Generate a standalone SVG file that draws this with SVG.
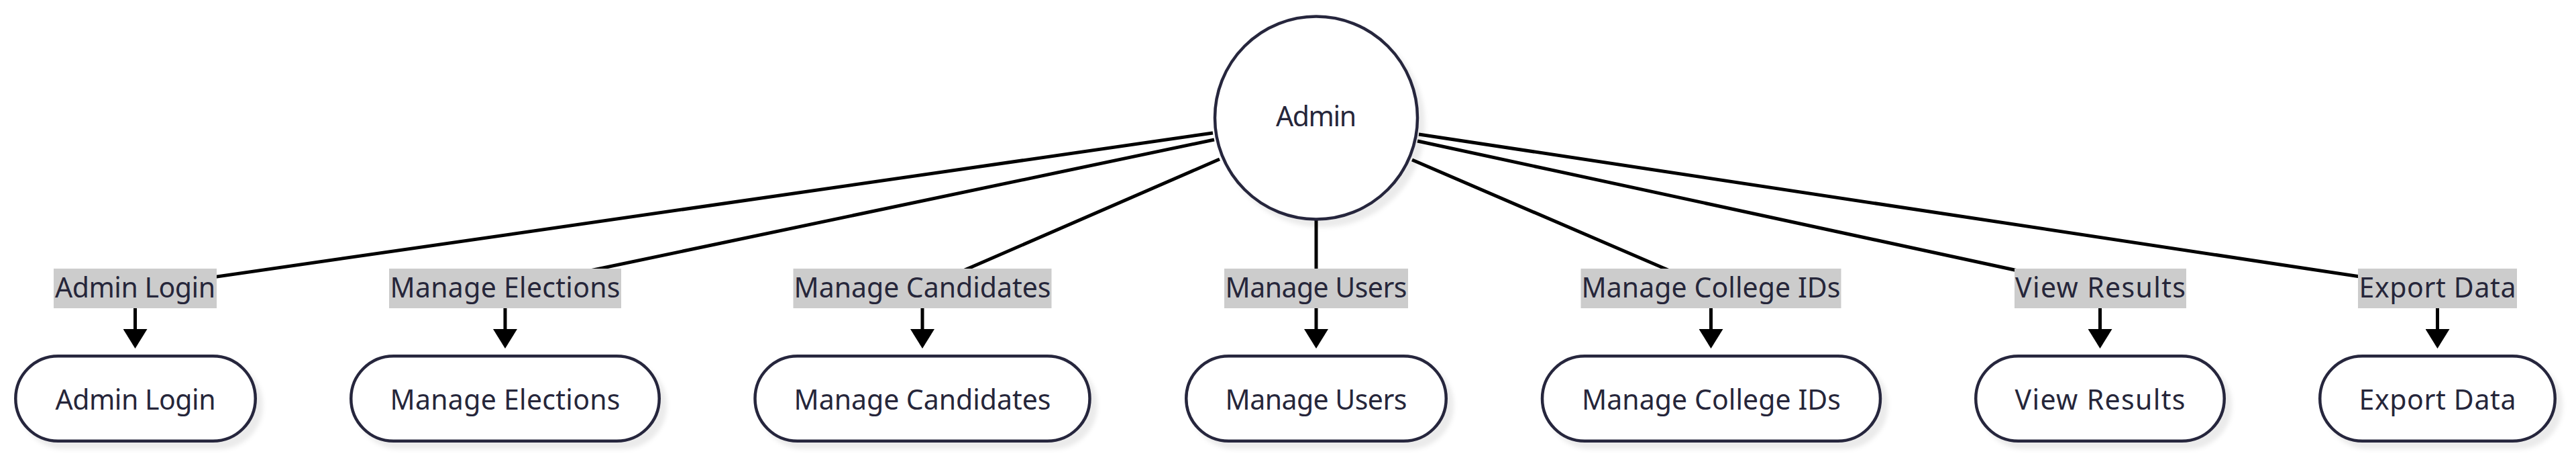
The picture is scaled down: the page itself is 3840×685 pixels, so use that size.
<svg xmlns="http://www.w3.org/2000/svg" width="3840" height="685" viewBox="0 0 3840 685">
<style>
  .bg { fill: #ffffff; }
  .edge { fill: none; stroke: #000000; stroke-width: 5; }
  .lblbg { fill: #cccccc; }
  .shape { fill: #ffffff; stroke: #28283e; stroke-width: 4.5; filter: url(#shadow); }
  .txt { font-family: "Noto Sans", "DejaVu Sans", sans-serif; font-size: 41px; fill: #26263a; text-anchor: middle; }
</style>
<defs>
  <filter id="shadow" x="-20%" y="-20%" width="150%" height="160%">
    <feDropShadow dx="9" dy="10" stdDeviation="3" flood-color="#000000" flood-opacity="0.08"/>
  </filter>
  <marker id="arrow" viewBox="0 0 29 36" refX="1" refY="18" markerWidth="29" markerHeight="36" markerUnits="userSpaceOnUse" orient="auto">
    <path d="M0,0 L29,18 L0,36 Z" fill="#000000"/>
  </marker>
</defs>
<rect class="bg" x="0" y="0" width="3840" height="685"/>

<g id="connectors">
  <path class="edge" d="M1808,198 L201.5,429.5 L201.5,491" marker-end="url(#arrow)"/>
  <path class="edge" d="M1810,208 L753,429.5 L753,491" marker-end="url(#arrow)"/>
  <path class="edge" d="M1818,237 L1375,429.5 L1375,491" marker-end="url(#arrow)"/>
  <path class="edge" d="M1962,328 L1962,491" marker-end="url(#arrow)"/>
  <path class="edge" d="M2105,238 L2550.5,429.5 L2550.5,491" marker-end="url(#arrow)"/>
  <path class="edge" d="M2113,210 L3130.5,429.5 L3130.5,491" marker-end="url(#arrow)"/>
  <path class="edge" d="M2115,200 L3633.5,429.5 L3633.5,491" marker-end="url(#arrow)"/>
</g>

<g id="edge-labels">
  <g id="label-admin-login"><rect class="lblbg" x="80" y="400" width="243" height="59"/><text class="txt" x="201.5" y="443" textLength="239">Admin Login</text></g>
  <g id="label-manage-elections"><rect class="lblbg" x="580" y="400" width="346" height="59"/><text class="txt" x="753" y="443" textLength="343">Manage Elections</text></g>
  <g id="label-manage-candidates"><rect class="lblbg" x="1182.5" y="400" width="385" height="59"/><text class="txt" x="1375" y="443" textLength="383">Manage Candidates</text></g>
  <g id="label-manage-users"><rect class="lblbg" x="1825" y="400" width="274" height="59"/><text class="txt" x="1962" y="443" textLength="271">Manage Users</text></g>
  <g id="label-manage-college-ids"><rect class="lblbg" x="2356.5" y="400" width="388" height="59"/><text class="txt" x="2550.5" y="443" textLength="386">Manage College IDs</text></g>
  <g id="label-view-results"><rect class="lblbg" x="3003" y="400" width="256" height="59"/><text class="txt" x="3131" y="443" textLength="254">View Results</text></g>
  <g id="label-export-data"><rect class="lblbg" x="3515" y="400" width="237" height="59"/><text class="txt" x="3633.5" y="443" textLength="234">Export Data</text></g>
</g>

<g id="node-admin">
  <circle class="shape" cx="1962" cy="175.5" r="151"/>
  <text class="txt" x="1962" y="188" textLength="120">Admin</text>
</g>
<g id="node-admin-login">
  <rect class="shape" x="23.25" y="530.25" width="357.5" height="126.5" rx="63.25" ry="63.25"/>
  <text class="txt" x="202" y="610" textLength="239">Admin Login</text>
</g>
<g id="node-manage-elections">
  <rect class="shape" x="523.25" y="530.25" width="459.5" height="126.5" rx="63.25" ry="63.25"/>
  <text class="txt" x="753" y="610" textLength="343">Manage Elections</text>
</g>
<g id="node-manage-candidates">
  <rect class="shape" x="1125.5" y="530.25" width="499" height="126.5" rx="63.25" ry="63.25"/>
  <text class="txt" x="1375" y="610" textLength="383">Manage Candidates</text>
</g>
<g id="node-manage-users">
  <rect class="shape" x="1768.25" y="530.25" width="387.5" height="126.5" rx="63.25" ry="63.25"/>
  <text class="txt" x="1962" y="610" textLength="271">Manage Users</text>
</g>
<g id="node-manage-college-ids">
  <rect class="shape" x="2299" y="530.25" width="504" height="126.5" rx="63.25" ry="63.25"/>
  <text class="txt" x="2551" y="610" textLength="386">Manage College IDs</text>
</g>
<g id="node-view-results">
  <rect class="shape" x="2945.25" y="530.25" width="370.5" height="126.5" rx="63.25" ry="63.25"/>
  <text class="txt" x="3130.5" y="610" textLength="254">View Results</text>
</g>
<g id="node-export-data">
  <rect class="shape" x="3458.25" y="530.25" width="350.5" height="126.5" rx="63.25" ry="63.25"/>
  <text class="txt" x="3633.5" y="610" textLength="234">Export Data</text>
</g>
</svg>
